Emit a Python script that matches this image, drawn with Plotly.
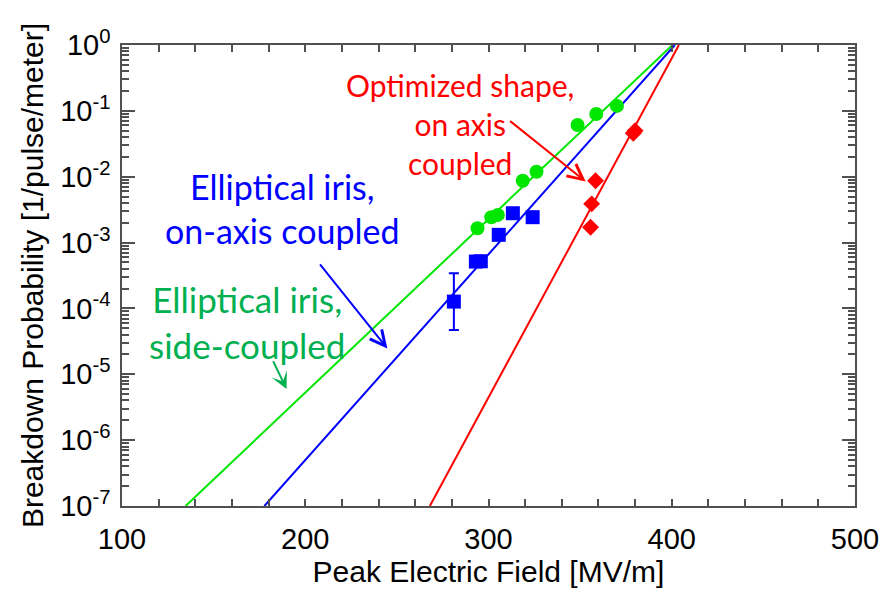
import plotly.graph_objects as go

# ---- data ----
green_E = [294.0, 301.5, 305.1, 318.7, 326.2, 348.6, 358.8, 370.1]
green_P = [1.65e-3, 2.43e-3, 2.63e-3, 8.7e-3, 1.19e-2, 6.1e-2, 8.97e-2, 0.119]

blue_E = [281.1, 293.1, 295.8, 305.6, 313.3, 324.1]
blue_P = [1.27e-4, 5.15e-4, 5.2e-4, 1.31e-3, 2.79e-3, 2.43e-3]
blue_err_plus = [3.43e-4 - 1.27e-4, None, None, None, None, None]
blue_err_minus = [1.27e-4 - 4.7e-5, None, None, None, None, None]

red_E = [355.7, 356.3, 358.4, 379.0, 380.0]
red_P = [1.71e-3, 3.87e-3, 8.7e-3, 4.57e-2, 5.0e-2]

# fitted lines (end points)
green_fit_E = [134.7, 400.4]
green_fit_P = [1e-7, 1.0]
blue_fit_E = [177.7, 401.7]
blue_fit_P = [1e-7, 1.0]
red_fit_E = [268.0, 403.9]
red_fit_P = [1e-7, 1.0]

x_tickvals = [100, 200, 300, 400, 500]
x_ticktext = ["100", "200", "300", "400", "500"]
y_exponents = [0, -1, -2, -3, -4, -5, -6, -7]

GREEN = "#00E600"
BLUE = "#0000FF"
RED = "#FF0000"
TXT_GREEN = "#00B050"
AX = "#505050"

fig = go.Figure()

fig.add_trace(go.Scatter(x=green_fit_E, y=green_fit_P, mode="lines",
                         line=dict(color=GREEN, width=2), showlegend=False))
fig.add_trace(go.Scatter(x=blue_fit_E, y=blue_fit_P, mode="lines",
                         line=dict(color=BLUE, width=2), showlegend=False))
fig.add_trace(go.Scatter(x=red_fit_E, y=red_fit_P, mode="lines",
                         line=dict(color=RED, width=2), showlegend=False))

fig.add_trace(go.Scatter(x=green_E, y=green_P, mode="markers",
                         marker=dict(symbol="circle", size=14, color=GREEN),
                         showlegend=False))
fig.add_trace(go.Scatter(x=blue_E, y=blue_P, mode="markers",
                         marker=dict(symbol="square", size=14, color=BLUE),
                         error_y=dict(type="data", array=blue_err_plus,
                                      arrayminus=blue_err_minus, symmetric=False,
                                      color=BLUE, thickness=2, width=5),
                         showlegend=False))
fig.add_trace(go.Scatter(x=red_E, y=red_P, mode="markers",
                         marker=dict(symbol="diamond", size=13, color=RED),
                         showlegend=False))

ann_font = "Lato, 'Open Sans', sans-serif"
annotations = [
    dict(x=187.5, y=-2.478, xref="x", yref="y", showarrow=False,
         text="Elliptical iris,<br>on-axis coupled", align="center",
         font=dict(family=ann_font, size=34, color=BLUE)),
    dict(x=168.0, y=-4.199, xref="x", yref="y", showarrow=False,
         text="Elliptical iris,<br>side-coupled", align="center",
         font=dict(family=ann_font, size=35, color=TXT_GREEN)),
    dict(x=284.5, y=-1.206, xref="x", yref="y", showarrow=False,
         text="Optimized shape,<br>on axis<br>coupled", align="center",
         font=dict(family=ann_font, size=30, color=RED)),
    # arrows
    dict(x=244.8, y=-4.61, ax=207.4, ay=-3.308, xref="x", yref="y",
         axref="x", ayref="y", text="", showarrow=True, arrowhead=5,
         arrowsize=1.5, arrowwidth=2, arrowcolor=BLUE),
    dict(x=189.8, y=-5.225, ax=182.1, ay=-4.78, xref="x", yref="y",
         axref="x", ayref="y", text="", showarrow=True, arrowhead=3,
         arrowsize=1.4, arrowwidth=2, arrowcolor=TXT_GREEN),
    dict(x=353.0, y=-2.074, ax=311.0, ay=-1.138, xref="x", yref="y",
         axref="x", ayref="y", text="", showarrow=True, arrowhead=5,
         arrowsize=1.5, arrowwidth=2, arrowcolor=RED),
]

minor_y = [m * 10.0 ** e for e in range(-7, 0) for m in range(2, 10)]

fig.update_layout(
    width=891, height=593,
    margin=dict(l=122, r=24, t=45, b=87),
    paper_bgcolor="white", plot_bgcolor="white",
    font=dict(family="'Liberation Sans', Arial, sans-serif", size=29, color="black"),
    annotations=annotations,
    xaxis=dict(
        range=[100, 500], tickvals=x_tickvals, ticktext=x_ticktext,
        ticks="inside", ticklen=7, tickwidth=1.5, tickcolor=AX,
        ticklabelstandoff=6, ticklabeloverflow="allow",
        minor=dict(dtick=20, ticks="inside", ticklen=7, tickwidth=1.5, tickcolor=AX),
        showline=True, linecolor=AX, linewidth=1.5, mirror="ticks",
        showgrid=False, zeroline=False,
        title=dict(text="Peak Electric Field [MV/m]", standoff=4,
                   font=dict(size=30)),
        tickfont=dict(size=29),
    ),
    yaxis=dict(
        type="log", range=[-7, 0],
        tickvals=[10.0 ** e for e in y_exponents],
        ticktext=["10<sup>%d</sup>" % e for e in y_exponents],
        ticks="inside", ticklen=13, tickwidth=1.5, tickcolor=AX,
        ticklabelstandoff=4, ticklabeloverflow="allow",
        minor=dict(tickvals=minor_y, ticks="inside", ticklen=7, tickwidth=1.5,
                   tickcolor=AX),
        showline=True, linecolor=AX, linewidth=1.5, mirror="ticks",
        showgrid=False, zeroline=False,
        title=dict(text="Breakdown Probability [1/pulse/meter]", standoff=8,
                   font=dict(size=30)),
        tickfont=dict(size=29),
    ),
)

fig.write_html("out.html")
